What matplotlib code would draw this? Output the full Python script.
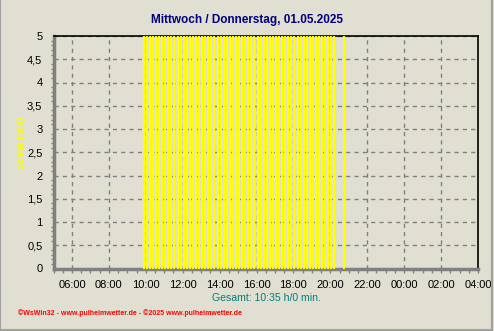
import matplotlib
matplotlib.use("Agg")
import matplotlib.pyplot as plt
from matplotlib.ticker import MultipleLocator, FuncFormatter
from matplotlib.patches import Rectangle

# sunshine data: start time of each 10-minute interval and sunshine minutes
times = ["09:50", "10:00", "10:10", "10:20", "10:30", "10:40", "10:50",
         "11:00", "11:10", "11:20", "11:30", "11:40", "11:50",
         "12:00", "12:10", "12:20", "12:30", "12:40", "12:50",
         "13:00", "13:10", "13:20", "13:30", "13:40", "13:50",
         "14:00", "14:10", "14:20", "14:30", "14:40", "14:50",
         "15:00", "15:10", "15:20", "15:30", "15:40", "15:50",
         "16:00", "16:10", "16:20", "16:30", "16:40", "16:50",
         "17:00", "17:10", "17:20", "17:30", "17:40", "17:50",
         "18:00", "18:10", "18:20", "18:30", "18:40", "18:50",
         "19:00", "19:10", "19:20", "19:30", "19:40", "19:50",
         "20:00", "20:10", "20:40"]
sun_min = [5] * len(times)

title = "Mittwoch / Donnerstag, 01.05.2025"
total_text = "Gesamt: 10:35 h/0 min."
footer = "\u00a9WsWin32 - www.pulheimwetter.de - \u00a92025 www.pulheimwetter.de"

bg = "#e0dfd1"
plt.rcParams["font.family"] = ["Liberation Sans", "DejaVu Sans"]

fig = plt.figure(figsize=(4.94, 3.31), dpi=100, facecolor=bg)
ax = fig.add_axes([53.5 / 494, 1 - 268.5 / 331, (478 - 53.5) / 494, (268.5 - 36) / 331])
ax.set_facecolor(bg)

# convert "HH:MM" to hours
x = [int(t[:2]) + int(t[3:]) / 60 for t in times]
ax.bar(x, sun_min, width=6.5 / 60, align="edge", color="#ffff00",
       edgecolor="none", zorder=3, clip_on=False)

ax.set_xlim(5, 28)
ax.set_ylim(0, 5)

ax.xaxis.set_major_locator(MultipleLocator(2))
ax.xaxis.set_minor_locator(MultipleLocator(0.5))
ax.xaxis.set_major_formatter(FuncFormatter(lambda v, p: "%02d:00" % (int(round(v)) % 24)))
ax.yaxis.set_major_locator(MultipleLocator(0.5))
ax.yaxis.set_minor_locator(MultipleLocator(0.1))
ax.yaxis.set_major_formatter(FuncFormatter(lambda v, p: ("%g" % v).replace(".", ",")))

ax.tick_params(axis="x", which="both", direction="out", length=3, width=1,
               color="#808080", labelsize=8, pad=5)
ax.tick_params(axis="y", which="major", length=0, labelsize=8, pad=8)
ax.tick_params(axis="y", which="minor", direction="out", length=2, width=1, color="#808080")

ax.grid(True, which="major", color="#808080", linestyle=(0, (3, 3)), linewidth=1, zorder=1)

for s in ["left", "bottom"]:
    ax.spines[s].set_color("#808080")
    ax.spines[s].set_linewidth(2.5)
for s in ["top", "right"]:
    ax.spines[s].set_color("black")
    ax.spines[s].set_linewidth(1.2)

# y label placed as a figure text so it sits left of the tick labels
fig.text(21 / 494, 1 - 143 / 331, "Sonne (min)", color="#ffff00", fontsize=6.5,
         fontweight="bold", rotation=90, ha="center", va="center")

fig.text(247 / 494, 1 - 20 / 331, title, color="#000080", fontsize=8.5,
         fontweight="bold", ha="center", va="center")
fig.text(266 / 494, 1 - 298 / 331, total_text, color="#008080", fontsize=7.6,
         ha="center", va="center")
fig.text(18 / 494, 1 - 313 / 331, footer, color="#ff0000", fontsize=5,
         fontweight="bold", ha="left", va="center")

# panel border lines (right and bottom)
fig.patches.append(Rectangle((0, 1 / 331), 491.5 / 494, 1.2, transform=fig.transFigure,
                             fill=False, edgecolor="#a0a0a0", linewidth=1.5))

fig.savefig("out.png", dpi=100, facecolor=bg)
